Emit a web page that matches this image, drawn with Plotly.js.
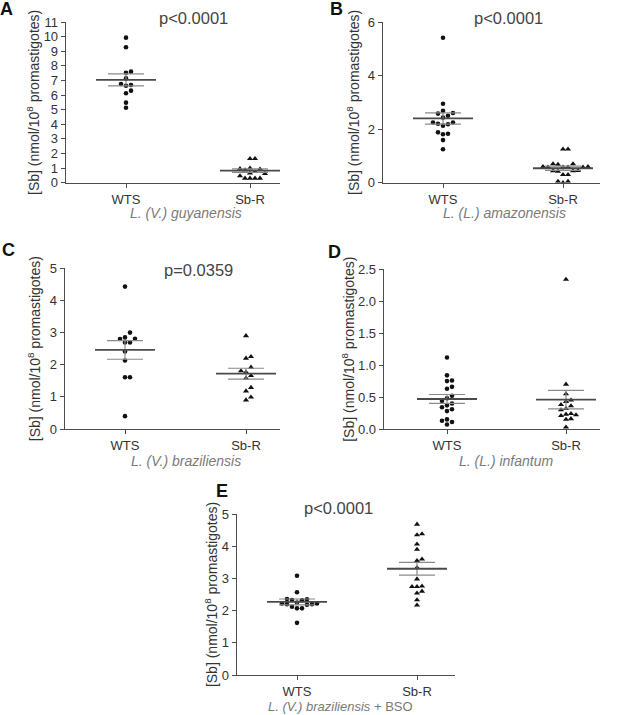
<!DOCTYPE html>
<html><head><meta charset="utf-8">
<script src="https://cdn.plot.ly/plotly-3.0.1.min.js"></script>
<style>html,body{margin:0;padding:0;background:#fff}#chart{width:629px;height:715px}</style>
</head><body><div id="chart"></div>
<script>
// ---------- data ----------
const categories = ['WTS', 'Sb-R'];

const aWTS = [9.93, 9.27, 7.60, 7.53, 7.14, 6.76, 6.69, 6.64, 6.30, 6.12, 5.48, 5.13];
const aSbR = [1.64, 1.64, 1.00, 0.95, 0.92, 0.88, 0.75, 0.65, 0.62, 0.46, 0.30, 0.30, 0.30, 0.30];
const aMean = [7.04, 0.82];
const aSEM = [0.41, 0.12];

const bWTS = [5.41, 2.95, 2.68, 2.60, 2.58, 2.50, 2.43, 2.25, 2.25, 2.20, 2.18, 2.13, 1.88, 1.83, 1.81, 1.59, 1.25];
const bSbR = [1.25, 1.25, 0.70, 0.70, 0.68, 0.60, 0.60, 0.58, 0.58, 0.58, 0.58, 0.45, 0.44, 0.44, 0.42, 0.30, 0.30, 0.05, 0.05, 0.00];
const bMean = [2.40, 0.54];
const bSEM = [0.21, 0.08];

const cWTS = [4.43, 3.00, 2.85, 2.81, 2.80, 2.69, 2.69, 2.41, 2.13, 1.61, 1.61, 0.40];
const cSbR = [2.90, 2.25, 2.20, 1.92, 1.81, 1.77, 1.66, 1.58, 1.29, 1.18, 0.99, 0.90];
const cMean = [2.46, 1.72];
const cSEM = [0.29, 0.17];

const dWTS = [1.12, 0.84, 0.76, 0.75, 0.66, 0.63, 0.52, 0.48, 0.44, 0.40, 0.37, 0.34, 0.31, 0.28, 0.15, 0.13, 0.11, 0.07];
const dSbR = [2.34, 0.70, 0.55, 0.45, 0.43, 0.38, 0.36, 0.32, 0.30, 0.24, 0.23, 0.22, 0.21, 0.16, 0.15, 0.03];
const dMean = [0.47, 0.46];
const dSEM = [0.07, 0.145];

const eWTS = [3.08, 2.57, 2.36, 2.35, 2.33, 2.32, 2.25, 2.22, 2.22, 2.20, 2.20, 2.18, 2.12, 2.07, 2.07, 1.62];
const eSbR = [4.68, 4.38, 4.35, 4.06, 3.90, 3.60, 3.55, 3.33, 2.98, 2.76, 2.74, 2.74, 2.60, 2.54, 2.33, 2.17];
const eMean = [2.27, 3.30];
const eSEM = [0.09, 0.20];

const pLabels = ['p<0.0001', 'p<0.0001', 'p=0.0359', '', 'p<0.0001'];
const speciesLabels = ['<i>L. (V.) guyanensis</i>', '<i>L. (L.) amazonensis</i>', '<i>L. (V.) braziliensis</i>',
                       '<i>L. (L.) infantum</i>', '<i>L. (V.) braziliensis</i> + BSO'];
const panelLetters = ['A', 'B', 'C', 'D', 'E'];
const yTitle = '[Sb] (nmol/10<sup>8</sup> promastigotes)';

// ---------- layout geometry (pixels) ----------
const W = 629, H = 715;
const panels = [
  {wts: aWTS, sbr: aSbR, mean: aMean, sem: aSEM, ymax: 11, dtick: 1, fmt: '', left: 66, right: 280, top: 22, bottom: 182.7, cW: 126, cS: 250,
   letter: [7, 9], p: [193, 18], sp: [186, 213], spSize: 14, standoff: 0},
  {wts: bWTS, sbr: bSbR, mean: bMean, sem: bSEM, ymax: 6, dtick: 2, fmt: '', left: 383, right: 600, top: 22, bottom: 182.7, cW: 443, cS: 563,
   letter: [336, 9], p: [508, 18], sp: [504, 213], spSize: 14, standoff: 5},
  {wts: cWTS, sbr: cSbR, mean: cMean, sem: cSEM, ymax: 5, dtick: 1, fmt: '', left: 65, right: 280, top: 268.3, bottom: 429, cW: 125, cS: 246,
   letter: [8, 250], p: [198, 270], sp: [186, 461], spSize: 14, standoff: 6},
  {wts: dWTS, sbr: dSbR, mean: dMean, sem: dSEM, ymax: 2.5, dtick: 0.5, fmt: '.1f', left: 384, right: 600, top: 269.3, bottom: 429, cW: 447, cS: 566,
   letter: [334, 252], p: [0, 0], sp: [506, 461], spSize: 14, standoff: 0},
  {wts: eWTS, sbr: eSbR, mean: eMean, sem: eSEM, ymax: 5, dtick: 1, fmt: '', left: 237, right: 455, top: 514, bottom: 675, cW: 297, cS: 417,
   letter: [222, 491], p: [338, 508], sp: [340, 706.5], spSize: 13, standoff: 1}
];

const ink = '#111111';
const axisCol = '#4d4d4d';
const font = 'Liberation Sans, Arial, sans-serif';

// beeswarm offsets (in pixels) computed from values and the pixel scale
function swarm(vals, pxPerY, d) {
  const idx = vals.map((v, i) => i).sort((a, b) => vals[a] - vals[b]);
  const placed = [];
  const off = new Array(vals.length).fill(0);
  idx.forEach(i => {
    const y = vals[i] * pxPerY;
    for (let k = 0; k < 40; k++) {
      const cand = k === 0 ? 0 : (k % 2 ? 1 : -1) * Math.ceil(k / 2) * d;
      const ok = placed.every(p => Math.hypot(p.x - cand, p.y - y) >= d);
      if (ok) { off[i] = cand; placed.push({x: cand, y: y}); break; }
    }
  });
  return off;
}

const traces = [];
const layout = {
  width: W, height: H, margin: {l: 0, r: 0, t: 0, b: 0},
  paper_bgcolor: '#fff', plot_bgcolor: '#fff', showlegend: false,
  font: {family: font, color: '#333', size: 12},
  annotations: []
};

panels.forEach((P, k) => {
  const n = k === 0 ? '' : String(k + 1);
  const xa = 'x' + n, ya = 'y' + n;
  const ppuX = P.cS - P.cW;
  const xr = [1 - (P.cW - P.left) / ppuX, 2 + (P.right - P.cS) / ppuX];
  const pxPerY = (P.bottom - P.top) / P.ymax;

  [[P.wts, 'circle', 4.6, 1], [P.sbr, 'triangle-up', 5.4, 2]].forEach(([vals, sym, sz, c]) => {
    const off = swarm(vals, pxPerY, 5);
    traces.push({
      type: 'scatter', mode: 'markers', xaxis: xa, yaxis: ya,
      x: vals.map((v, i) => c + off[i] / ppuX), y: vals,
      marker: {symbol: sym, size: sz, color: ink, line: {width: 0}},
      hoverinfo: 'y'
    });
  });

  // mean and SEM lines
  const mx = [], my = [], sx = [], sy = [];
  [0, 1].forEach(j => {
    const c = j + 1, m = P.mean[j], s = P.sem[j];
    mx.push(c - 30 / ppuX, c + 30 / ppuX, null); my.push(m, m, null);
    sx.push(c - 18 / ppuX, c + 18 / ppuX, null, c - 18 / ppuX, c + 18 / ppuX, null, c, c, null);
    sy.push(m + s, m + s, null, m - s, m - s, null, m - s, m + s, null);
  });
  traces.push({type: 'scatter', mode: 'lines', xaxis: xa, yaxis: ya, x: sx, y: sy,
               line: {color: '#8a8a8a', width: 1.2}, hoverinfo: 'skip'});
  traces.push({type: 'scatter', mode: 'lines', xaxis: xa, yaxis: ya, x: mx, y: my,
               line: {color: '#4a4a4a', width: 1.8}, hoverinfo: 'skip'});

  layout['xaxis' + n] = {
    domain: [P.left / W, P.right / W], range: xr, anchor: ya,
    tickmode: 'array', tickvals: [1, 2], ticktext: categories,
    showline: true, linecolor: axisCol, linewidth: 1.3, ticks: 'outside', ticklen: 4, tickcolor: axisCol,
    showgrid: false, zeroline: false, tickfont: {size: 13, color: '#333'}, fixedrange: true
  };
  layout['yaxis' + n] = {
    domain: [1 - P.bottom / H, 1 - P.top / H], range: [0, P.ymax], anchor: xa,
    tickmode: 'linear', tick0: 0, dtick: P.dtick, tickformat: P.fmt,
    showline: true, linecolor: axisCol, linewidth: 1.3, ticks: 'outside', ticklen: 4, tickcolor: axisCol,
    showgrid: false, zeroline: false, tickfont: {size: 13, color: '#333'}, fixedrange: true,
    title: {text: yTitle, font: {size: 14, color: '#333'}, standoff: P.standoff}
  };

  layout.annotations.push({xref: 'paper', yref: 'paper', x: P.letter[0] / W, y: 1 - P.letter[1] / H,
    text: '<b>' + panelLetters[k] + '</b>', showarrow: false, font: {size: 18, color: '#111'}, xanchor: 'center', yanchor: 'middle'});
  if (pLabels[k]) layout.annotations.push({xref: 'paper', yref: 'paper', x: P.p[0] / W, y: 1 - P.p[1] / H,
    text: pLabels[k], showarrow: false, font: {size: 16.5, color: '#444'}, xanchor: 'center', yanchor: 'middle'});
  layout.annotations.push({xref: 'paper', yref: 'paper', x: P.sp[0] / W, y: 1 - P.sp[1] / H,
    text: speciesLabels[k], showarrow: false, font: {size: P.spSize, color: '#7a7a7a'}, xanchor: 'center', yanchor: 'middle'});
});

Plotly.newPlot('chart', traces, layout, {displayModeBar: false, staticPlot: true});
</script>
</body></html>
